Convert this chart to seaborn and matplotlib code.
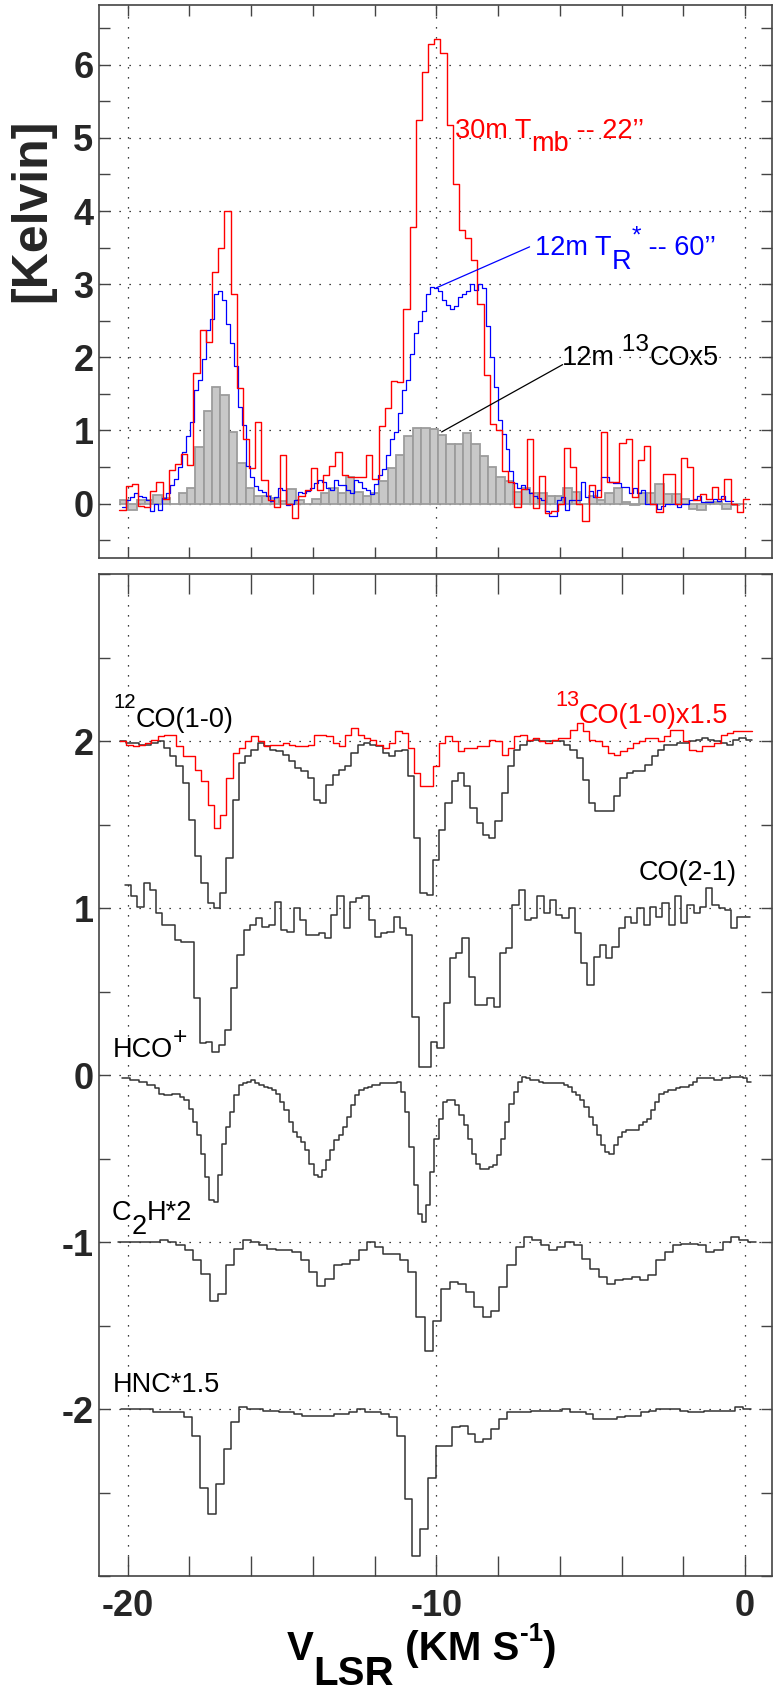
import numpy as np
import matplotlib
matplotlib.use("Agg")
import matplotlib.pyplot as plt
from matplotlib.ticker import MultipleLocator
import seaborn as sns

# ---- top panel: emission spectra (K), velocity grids in km/s ----
# 30m 12CO, Tmb
v30_range = (-20.27, 0.13)
t30 = [-0.08, 0.24, 0.27, -0.03, -0.05, 0.17, 0.30, 0.07, 0.46, 0.54,
       0.68, 0.53, 1.78, 2.38, 2.21, 3.16, 3.49, 4.00, 2.86, 1.58,
       0.88, 0.49, 1.12, 0.33, 0.05, -0.05, 0.67, 0.00, -0.19, 0.11,
       0.18, 0.49, 0.19, 0.39, 0.52, 0.70, 0.39, 0.37, 0.37, 0.37,
       0.67, 0.34, 1.06, 1.31, 1.67, 1.66, 2.66, 3.78, 5.24, 5.90,
       6.28, 6.35, 6.16, 5.17, 4.37, 3.74, 3.63, 3.33, 2.73, 1.76,
       1.09, 1.00, 0.45, 0.30, -0.05, 0.20, 0.88, -0.06, 0.38, -0.13,
       -0.10, 0.00, 0.76, 0.50, 0.00, -0.24, 0.26, 0.09, 0.98, 0.30,
       0.30, 0.83, 0.89, 0.09, 0.60, 0.79, 0.00, -0.11, 0.41, 0.41,
       0.00, 0.63, 0.50, 0.05, 0.13, 0.06, 0.23, 0.07, 0.34, 0.00,
       -0.11, 0.06]

# 12m 12CO, TR*
v12_range = (-20.19, -0.38)
t12 = [-0.05, 0.05, 0.09, 0.15, 0.11, 0.09, 0.05, -0.10, -0.01, -0.08,
       0.08, 0.14, 0.26, 0.34, 0.50, 0.71, 0.93, 1.12, 1.56, 1.69,
       1.98, 2.38, 2.53, 2.86, 2.90, 2.78, 2.45, 2.20, 1.88, 1.32,
       1.07, 0.52, 0.36, 0.24, 0.18, 0.16, 0.11, 0.04, 0.09, 0.22,
       0.19, -0.02, -0.01, 0.05, 0.16, 0.15, 0.17, 0.22, 0.28, 0.32,
       0.30, 0.22, 0.19, 0.33, 0.25, 0.25, 0.18, 0.14, 0.33, 0.30,
       0.22, 0.19, 0.13, 0.27, 0.39, 0.47, 0.67, 0.88, 0.98, 1.24,
       1.55, 1.69, 2.04, 2.33, 2.50, 2.64, 2.86, 2.96,
       2.95, 2.90, 2.78, 2.72, 2.66, 2.70, 2.82, 2.87, 2.90, 3.00,
       2.92, 3.00, 2.95, 2.43, 2.00, 1.60, 1.15, 0.95, 0.75, 0.45,
       0.28, 0.22,
       0.25, 0.20, 0.15, 0.10, 0.08, 0.05, -0.10, -0.17, -0.17, 0.05,
       0.09, -0.08, 0.05, 0.05, 0.05, 0.30, 0.09, 0.17, 0.09, 0.18,
       0.37, 0.37, 0.30, 0.28, 0.28, 0.23, 0.23, 0.14, 0.22, 0.14,
       0.18, 0.00, 0.00, 0.00, -0.07, -0.03, 0.00, 0.00, 0.00, -0.05,
       0.00, 0.00, 0.05, 0.07, 0.11, 0.02, 0.02, 0.02, 0.07, 0.04,
       0.11, 0.04, 0.04]

# 12m 13CO x5 (bars)
v13_range = (-20.25, 0.08)
t13 = [0.05, -0.09, 0.05, 0.05, 0.12, 0.08, 0.00, 0.15, 0.22, 0.78,
       1.27, 1.59, 1.48, 0.98, 0.56, 0.21, 0.10, 0.10, 0.08, 0.04,
       0.20, 0.05, 0.00, 0.07, 0.14, 0.22, 0.15, 0.37, 0.16, 0.11,
       0.14, 0.31, 0.49, 0.67, 0.93, 1.04, 1.04, 1.02, 0.94, 0.82,
       0.81, 0.96, 0.82, 0.65, 0.50, 0.36, 0.31, 0.16, 0.22, 0.15,
       0.15, 0.11, 0.11, 0.22, 0.16, 0.00, 0.11, 0.05, 0.15, 0.21,
       0.02, -0.02, 0.15, 0.14, 0.27, 0.13, 0.13, 0.07, -0.07, -0.09,
       0.02, 0.02, -0.07, -0.02, 0.00]

# ---- bottom panel: absorption spectra (line/continuum, offset) ----
co10_range = (-20.25, 0.22)
co10 = [2.00, 1.99, 1.99, 1.98, 1.98, 1.99, 2.00, 1.96, 1.91, 1.85,
        1.75, 1.53, 1.31, 1.15, 1.03, 1.00, 1.09, 1.30, 1.65, 1.87,
        1.91, 1.95, 1.99, 1.97, 1.95, 1.94, 1.92, 1.88, 1.84, 1.82,
        1.78, 1.65, 1.63, 1.74, 1.80, 1.83, 1.85, 1.93, 1.98, 1.99,
        1.98, 1.97, 1.93, 1.91, 1.94, 1.95, 1.79, 1.42, 1.09, 1.08,
        1.29, 1.47, 1.63, 1.76, 1.81, 1.73, 1.60, 1.51, 1.44, 1.42,
        1.52, 1.69, 1.85, 1.95, 1.98, 2.00, 2.01, 2.00, 2.00, 2.00,
        2.00, 1.98, 1.95, 1.90, 1.77, 1.63, 1.58, 1.58, 1.58, 1.67,
        1.78, 1.81, 1.82, 1.82, 1.86, 1.91, 1.95, 1.98, 1.98, 1.99,
        1.99, 2.00, 2.01, 2.02, 2.01, 2.00, 1.99, 1.98, 2.01, 2.02,
        2.01]
co13 = [2.00, 1.98, 1.97, 1.98, 1.99, 2.01, 2.03, 2.04, 2.04, 1.97,
        1.91, 1.91, 1.83, 1.76, 1.62, 1.48, 1.56, 1.78, 1.93, 1.96,
        2.00, 2.03, 2.00, 1.97, 1.98, 1.98, 1.99, 1.98, 1.97, 1.97,
        1.98, 2.04, 2.04, 2.03, 1.99, 1.97, 2.04, 2.08, 2.04, 2.02,
        2.01, 1.98, 1.96, 1.99, 2.06, 2.05, 1.96, 1.81, 1.73, 1.73,
        1.85, 1.99, 2.03, 2.00, 1.94, 1.96, 1.96, 1.97, 1.97, 2.01,
        2.00, 1.92, 1.96, 2.03, 2.04, 2.01, 2.02, 2.00, 1.99, 2.01,
        2.02, 2.02, 2.07, 2.11, 2.06, 2.01, 2.00, 1.97, 1.93, 1.92,
        1.94, 1.96, 1.99, 2.00, 2.02, 2.02, 2.00, 2.03, 2.07, 2.07,
        2.00, 1.95, 1.94, 1.97, 1.97, 1.99, 2.04, 2.05, 2.06, 2.06,
        2.06]

co21_range = (-20.09, 0.16)
co21 = [1.14, 1.07, 1.01, 1.15, 1.11, 0.97, 0.90, 0.90, 0.81, 0.80,
        0.80, 0.46, 0.19, 0.20, 0.14, 0.18, 0.27, 0.52, 0.72, 0.87,
        0.90, 0.94, 0.89, 0.90, 1.04, 0.87, 0.86, 1.00, 0.93, 0.84,
        0.84, 0.85, 0.82, 0.96, 1.07, 0.88, 1.04, 1.06, 1.07, 0.93,
        0.83, 0.85, 0.86, 0.95, 0.88, 0.84, 0.35, 0.05, 0.05, 0.20,
        0.16, 0.43, 0.70, 0.73, 0.82, 0.59, 0.42, 0.42, 0.46, 0.41,
        0.73, 0.76, 1.02, 1.11, 0.93, 0.94, 1.07, 0.97, 1.05, 0.96,
        0.94, 1.00, 0.85, 0.67, 0.54, 0.71, 0.78, 0.70, 0.77, 0.88,
        0.95, 0.91, 1.00, 0.90, 1.01, 0.95, 1.03, 0.90, 1.07, 0.91,
        1.02, 0.97, 1.01, 1.12, 1.02, 1.00, 0.99, 0.88, 0.95, 0.95]

hco_range = (-20.19, 0.195)
hco = [-0.02, -0.02, -0.03, -0.03, -0.04, -0.04, -0.06, -0.06, -0.08, -0.11,
       -0.12, -0.12, -0.11, -0.11, -0.13, -0.15, -0.20, -0.28, -0.36, -0.47,
       -0.61, -0.75, -0.76, -0.60, -0.41, -0.31, -0.22, -0.12, -0.06, -0.05,
       -0.04, -0.03, -0.05, -0.06, -0.07, -0.08, -0.09, -0.11, -0.16, -0.21,
       -0.28, -0.34, -0.37, -0.40, -0.45, -0.53, -0.60, -0.61, -0.57, -0.51,
       -0.45, -0.39, -0.36, -0.31, -0.25, -0.18, -0.12, -0.09, -0.08, -0.07,
       -0.06, -0.06, -0.05, -0.05, -0.05, -0.05, -0.04, -0.10, -0.22, -0.43,
       -0.66, -0.83, -0.88, -0.78, -0.58, -0.385, -0.26, -0.16, -0.15, -0.15,
       -0.18, -0.24, -0.30, -0.38, -0.47, -0.53, -0.56, -0.56, -0.55, -0.54,
       -0.48, -0.385, -0.28, -0.17, -0.10, -0.04, -0.01, -0.02, -0.03, -0.03,
       -0.04, -0.05, -0.05, -0.05, -0.05, -0.05, -0.06, -0.07, -0.10, -0.12,
       -0.15, -0.19, -0.25, -0.30, -0.36, -0.42, -0.46, -0.47, -0.42, -0.37,
       -0.34, -0.33, -0.33, -0.33, -0.30, -0.28, -0.26, -0.21, -0.16, -0.11,
       -0.10, -0.09, -0.09, -0.08, -0.07, -0.07, -0.06, -0.04, -0.02, -0.02,
       -0.02, -0.02, -0.03, -0.03, -0.02, -0.02, -0.01, -0.01, -0.01, -0.02,
       -0.04]

c2h_range = (-20.30, 0.35)
c2h_offset = -1.0
c2h = [0.00, 0.00, 0.00, 0.00, 0.00, 0.01, 0.00, -0.02, -0.05, -0.11,
       -0.19, -0.35, -0.31, -0.14, -0.04, 0.01, 0.00, -0.02, -0.04, -0.05,
       -0.05, -0.06, -0.11, -0.18, -0.26, -0.22, -0.14, -0.13, -0.11, -0.05,
       0.00, -0.03, -0.07, -0.07, -0.11, -0.18, -0.45, -0.65, -0.47,
       -0.28, -0.24, -0.25, -0.30, -0.39, -0.45, -0.41, -0.27, -0.14, -0.03,
       0.03, 0.01, -0.02, -0.05, -0.03, 0.00, -0.02, -0.10, -0.16, -0.21,
       -0.25, -0.23, -0.22, -0.21, -0.23, -0.20, -0.11, -0.06, -0.02, -0.01,
       -0.01, -0.02, -0.06, -0.05, 0.00, 0.03, 0.01, 0.00]

hnc_range = (-20.21, 0.19)
hnc_offset = -2.0
hnc = [0.00, 0.00, 0.00, 0.00, -0.02, -0.02, -0.02, -0.02, -0.05, -0.16,
       -0.47, -0.63, -0.45, -0.24, -0.08, 0.01, 0.00, 0.00, -0.01, -0.01,
       -0.02, -0.02, -0.03, -0.04, -0.04, -0.04, -0.04, -0.03, -0.03, -0.02,
       0.00, -0.02, -0.02, -0.03, -0.05, -0.16, -0.54, -0.88, -0.72, -0.41,
       -0.22, -0.22, -0.11, -0.10, -0.15, -0.20, -0.18, -0.12, -0.06, -0.02,
       -0.02, -0.02, -0.01, -0.01, -0.01, -0.01, 0.00, -0.02, -0.02, -0.03,
       -0.06, -0.06, -0.06, -0.05, -0.04, -0.04, -0.02, -0.01, 0.00, 0.00,
       0.00, -0.01, -0.02, -0.02, -0.01, -0.01, -0.01, -0.01, 0.01, 0.00]

# leader lines for the top-panel labels (km/s, K)
blue_leader = ([-10.0, -6.98], [2.95, 3.51])
black_leader = ([-9.83, -5.91], [0.98, 1.90])

# ---------------------------------------------------------------
sns.set_style("white")
plt.rcParams["font.family"] = ["Liberation Sans", "DejaVu Sans"]
plt.rcParams["axes.unicode_minus"] = False

FRAME = "#444444"
LINE = "#333333"


def edges_for(rng, vals):
    return np.linspace(rng[0], rng[1], len(vals) + 1)


def stairs(ax, rng, vals, offset=0.0, **kw):
    y = np.asarray(vals, dtype=float) + offset
    sns.lineplot(x=edges_for(rng, vals), y=np.append(y, y[-1]), ax=ax,
                 drawstyle="steps-post", estimator=None, sort=False,
                 legend=False, **kw)


def put(ax, x, y, pieces, color, size, coords="data", **kw):
    # text made of pieces placed one after the other, each with its own
    # vertical shift (points) and size factor, IDL-style sub/superscripts
    prev = None
    for txt, dy, scale in pieces:
        if prev is None:
            xy, xyc = (x, y), coords
        else:
            xy, xyc = (1, y), (prev, coords)
        prev = ax.annotate(txt, xy=xy, xycoords=xyc, xytext=(0, dy),
                           textcoords="offset points", ha="left",
                           va="baseline", color=color, fontsize=size * scale,
                           annotation_clip=False, **kw)


def style_axes(ax, ylim, yticks, xlen, show_x):
    ax.set_xlim(-20.93, 0.865)
    ax.set_ylim(*ylim)
    ax.set_xticks([-20, -10, 0])
    ax.xaxis.set_minor_locator(MultipleLocator(2))
    ax.yaxis.set_minor_locator(MultipleLocator(0.5))
    ax.set_yticks(yticks)
    ax.set_yticklabels([str(t) for t in yticks], fontsize=26,
                       fontweight="bold")
    if show_x:
        ax.set_xticklabels(["-20", "-10", "0"], fontsize=26,
                           fontweight="bold")
    ax.tick_params(axis="x", which="both", direction="in", top=True,
                   bottom=True, length=xlen, width=1.0, color=FRAME,
                   labelbottom=show_x, pad=9)
    ax.tick_params(axis="y", which="both", direction="in", left=True,
                   right=True, length=8, width=1.0, color=FRAME, pad=4)
    ax.grid(True, which="major", color="black", linestyle=(0, (1, 7)),
            linewidth=0.9)
    ax.set_axisbelow(True)
    for s in ax.spines.values():
        s.set_color(FRAME)
        s.set_linewidth(1.2)
    ax.set_xlabel("")
    ax.set_ylabel("")


fig = plt.figure(figsize=(7.81, 16.93), dpi=100)
ax1 = fig.add_axes([0.1268, 0.6704, 0.8613, 0.3264])
ax2 = fig.add_axes([0.1268, 0.0691, 0.8613, 0.5917])

# top panel
e13 = edges_for(v13_range, t13)
ax1.bar(0.5 * (e13[:-1] + e13[1:]), t13, width=np.diff(e13),
        color="#c8c8c8", edgecolor="#9c9c9c", linewidth=1.3, zorder=2)
stairs(ax1, v12_range, t12, color="blue", linewidth=0.9, zorder=3)
stairs(ax1, v30_range, t30, color="red", linewidth=1.0, zorder=4)
ax1.plot(*blue_leader, color="blue", linewidth=0.9, zorder=5)
ax1.plot(*black_leader, color="black", linewidth=0.9, zorder=5)
style_axes(ax1, (-0.743, 6.81), list(range(0, 7)), 8, False)

put(ax1, -9.39, 5.0, [("30m T", 0, 1), ("mb", -9.5, 1), (" -- 22\u2019\u2019", 0, 1)],
    "red", 19.5)
put(ax1, -6.80, 3.40, [("12m T", 0, 1), ("R", -10.5, 1), ("*", 9, 0.9),
                       (" -- 60\u2019\u2019", 0, 1)], "blue", 19.5)
put(ax1, -5.92, 1.90, [("12m", 0, 1), (" 13", 9.5, 0.9), ("COx5", 0, 1)],
    "black", 19.5)

# bottom panel
stairs(ax2, co10_range, co10, color=LINE, linewidth=1.1, zorder=3)
stairs(ax2, co10_range, co13, color="red", linewidth=1.0, zorder=4)
stairs(ax2, co21_range, co21, color=LINE, linewidth=1.1, zorder=3)
stairs(ax2, hco_range, hco, color=LINE, linewidth=1.1, zorder=3)
stairs(ax2, c2h_range, c2h, offset=c2h_offset, color=LINE, linewidth=1.1, zorder=3)
stairs(ax2, hnc_range, hnc, offset=hnc_offset, color=LINE, linewidth=1.1, zorder=3)
style_axes(ax2, (-3.0, 3.0), [-2, -1, 0, 1, 2], 14.5, True)

put(ax2, -20.46, 2.085, [("12", 13.5, 0.75), ("CO(1-0)", 0, 1)], "black", 19.5)
put(ax2, -6.16, 2.11, [("13", 12, 0.8), ("CO(1-0)x1.5", 0, 1)], "red", 19.5)
put(ax2, -3.46, 1.17, [("CO(2-1)", 0, 1)], "black", 19.5)
put(ax2, -20.50, 0.11, [("HCO", 0, 1), ("+", 9, 0.9)], "black", 19.5)
put(ax2, -20.52, -0.87, [("C", 0, 1), ("2", -10, 1), ("H*2", 0, 1)], "black", 19.5)
put(ax2, -20.50, -1.90, [("HNC*1.5", 0, 1)], "black", 19.5)

# axis titles
put(ax2, 0.367, 0.0195, [("V", 0, 1), ("LSR", -18, 1), (" (KM S", 0, 1),
                         ("-1", 14, 0.65), (")", 0, 1)],
    "black", 29, coords="figure fraction", fontweight="bold")
fig.text(0.041, 0.876, "[Kelvin]", rotation=90, ha="center", va="center",
         fontsize=36, fontweight="bold")

fig.savefig("out.png", dpi=100)
